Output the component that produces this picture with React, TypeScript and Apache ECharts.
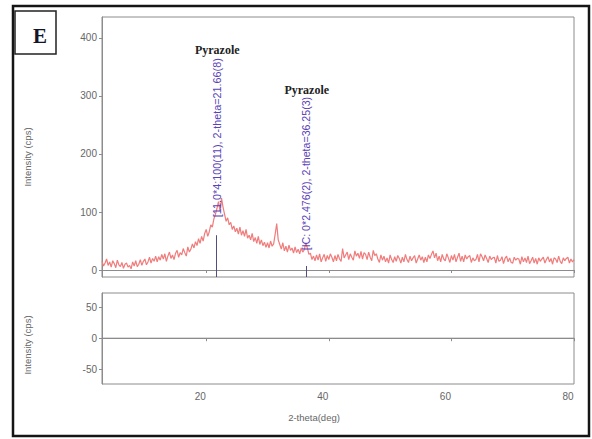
import React, { useEffect, useRef } from "react";
import * as echarts from "echarts";

// ---- data ----
const X_START = 3;
const X_STEP = 0.25;
const X_MIN = 3;
const X_MAX = 80;

// measured intensity (cps), one row per degree 2-theta (x.00, x.25, x.50, x.75)
const intensity: number[] = [
  15, 7, 12, 19, // 3
  8, 14, 5, 16, // 4
  11, 4, 17, 9, // 5
  6, 13, 3, 10, // 6
  12, 5, 8, 2, // 7
  14, 7, 16, 6, // 8
  10, 18, 8, 15, // 9
  19, 9, 14, 22, // 10
  12, 20, 15, 24, // 11
  14, 23, 17, 27, // 12
  19, 28, 15, 24, // 13
  31, 20, 26, 18, // 14
  29, 34, 22, 30, // 15
  26, 37, 30, 24, // 16
  40, 31, 36, 45, // 17
  38, 49, 42, 54, // 18
  46, 58, 50, 63, // 19
  70, 58, 66, 78, // 20
  74, 88, 96, 106, // 21
  118, 102, 124, 108, // 22
  96, 84, 90, 78, // 23
  82, 70, 76, 66, // 24
  72, 62, 74, 60, // 25
  68, 58, 70, 55, // 26
  60, 52, 63, 49, // 27
  56, 46, 58, 44, // 28
  52, 42, 48, 39, // 29
  47, 38, 50, 41, // 30
  45, 62, 80, 52, // 31
  44, 36, 47, 33, // 32
  41, 31, 43, 34, // 33
  38, 29, 40, 30, // 34
  36, 28, 38, 31, // 35
  35, 47, 38, 27, // 36
  29, 18, 24, 16, // 37
  26, 17, 28, 14, // 38
  21, 27, 15, 25, // 39
  18, 28, 22, 14, // 40
  25, 16, 27, 19, // 41
  15, 37, 21, 26, // 42
  31, 18, 28, 22, // 43
  17, 33, 24, 29, // 44
  20, 32, 19, 30, // 45
  27, 18, 31, 22, // 46
  16, 34, 25, 28, // 47
  19, 13, 26, 17, // 48
  24, 14, 21, 12, // 49
  26, 18, 13, 23, // 50
  15, 25, 20, 12, // 51
  22, 14, 27, 18, // 52
  13, 24, 16, 21, // 53
  25, 12, 19, 26, // 54
  17, 23, 13, 22, // 55
  14, 26, 20, 27, // 56
  33, 21, 29, 16, // 57
  24, 14, 27, 19, // 58
  16, 28, 21, 13, // 59
  25, 17, 27, 14, // 60
  22, 29, 15, 24, // 61
  14, 26, 19, 23, // 62
  25, 13, 21, 16, // 63
  18, 27, 14, 28, // 64
  23, 16, 26, 20, // 65
  13, 24, 18, 21, // 66
  22, 12, 25, 15, // 67
  17, 23, 11, 20, // 68
  24, 14, 21, 13, // 69
  12, 22, 17, 20, // 70
  19, 10, 23, 14, // 71
  21, 13, 24, 11, // 72
  16, 22, 12, 20, // 73
  10, 21, 15, 19, // 74
  22, 12, 18, 23, // 75
  14, 20, 10, 21, // 76
  19, 13, 24, 15, // 77
  11, 21, 16, 20, // 78
  22, 12, 19, 14, // 79
  18, // 80
];
const twoTheta = intensity.map((_, i) => X_START + i * X_STEP);

// difference panel
const diffTheta = [3, 80];
const diffValues = [0, 0];

// reference peak sticks and labels
const peakPositions = [21.66, 36.25];
const stickHeights = [60, 7];
const peakLabels = [
  "[11.0*4:100(11), 2-theta=21.66(8)",
  "[IC: 0*2.476(2), 2-theta=36.25(3)",
];
const peakLabelBase = [91, 34];
const peakLabelSize = [10.8, 10.6];
const phaseNames = ["Pyrazole", "Pyrazole"];
const phaseLabelX = [21.8, 36.4];
const phaseLabelY = [379, 310];

// axes
const topYMin = -12;
const topYMax = 436;
const botYMin = -74;
const botYMax = 73;

const AXIS = "#8c8c8c";
const TXT = "#666666";
const SANS = '"Liberation Sans", Arial, sans-serif';
const SERIF = '"Liberation Serif", "Times New Roman", serif';

export default function App() {
  const ref = useRef<HTMLDivElement>(null);
  useEffect(() => {
    document.body.style.margin = "0";
    const chart = echarts.init(ref.current!, null, { renderer: "svg" });
    const mainData = twoTheta.map((x, i) => [x, intensity[i]]);
    const diffData = diffTheta.map((x, i) => [x, diffValues[i]]);
    const stickLines = peakPositions.map((p, i) => [
      { coord: [p, topYMin] },
      { coord: [p, stickHeights[i]] },
    ]);
    const axisCommon = {
      type: "value" as const,
      min: X_MIN,
      max: X_MAX,
      minInterval: 20,
      maxInterval: 20,
      axisLine: { show: true, lineStyle: { color: AXIS } },
      axisTick: { show: true, inside: false, length: 3, lineStyle: { color: AXIS } },
      splitLine: { show: false },
    };
    chart.setOption({
      animation: false,
      backgroundColor: "#fff",
      grid: [
        { left: 102, top: 17, width: 472, height: 260, show: true, borderColor: AXIS, borderWidth: 1, backgroundColor: "#fff" },
        { left: 102, top: 293, width: 472, height: 91, show: true, borderColor: AXIS, borderWidth: 1, backgroundColor: "#fff" },
      ],
      xAxis: [
        { ...axisCommon, gridIndex: 0, axisLabel: { show: false } },
        {
          ...axisCommon,
          gridIndex: 1,
          axisLabel: {
            show: true,
            color: TXT,
            fontFamily: SANS,
            fontSize: 10,
            margin: 7,
            padding: [0, 12, 0, 0],
            showMinLabel: false,
            showMaxLabel: true,
          },
        },
      ],
      yAxis: [
        {
          type: "value",
          gridIndex: 0,
          min: topYMin,
          max: topYMax,
          minInterval: 100,
          maxInterval: 100,
          axisLine: { show: true, lineStyle: { color: AXIS } },
          axisTick: { show: true, length: 3, lineStyle: { color: AXIS } },
          splitLine: { show: false },
          axisLabel: { color: TXT, fontFamily: SANS, fontSize: 10, margin: 5, showMinLabel: false, showMaxLabel: false },
        },
        {
          type: "value",
          gridIndex: 1,
          min: botYMin,
          max: botYMax,
          minInterval: 50,
          maxInterval: 50,
          axisLine: { show: true, lineStyle: { color: AXIS } },
          axisTick: { show: true, length: 3, lineStyle: { color: AXIS } },
          splitLine: { show: false },
          axisLabel: { color: TXT, fontFamily: SANS, fontSize: 10, margin: 5, showMinLabel: false, showMaxLabel: false },
        },
      ],
      series: [
        {
          name: "Intensity",
          type: "line",
          xAxisIndex: 0,
          yAxisIndex: 0,
          data: mainData,
          showSymbol: false,
          symbol: "none",
          lineStyle: { color: "#f07c7c", width: 1.2 },
          z: 2,
          markLine: {
            silent: true,
            symbol: "none",
            label: { show: false },
            lineStyle: { color: "#505080", width: 1, type: "solid" },
            data: stickLines,
            z: 3,
          },
        },
        {
          name: "Difference",
          type: "line",
          xAxisIndex: 1,
          yAxisIndex: 1,
          data: diffData,
          showSymbol: false,
          symbol: "none",
          lineStyle: { color: AXIS, width: 1 },
        },
      ],
    });

    const px = (x: number, y: number) =>
      chart.convertToPixel({ xAxisIndex: 0, yAxisIndex: 0 }, [x, y]) as number[];

    const graphics: any[] = [
      {
        type: "rect",
        shape: { x: 13, y: 6, width: 576, height: 430 },
        style: { fill: "none", stroke: "#151515", lineWidth: 2.5 },
        silent: true,
        z: 10,
      },
      {
        type: "rect",
        shape: { x: 15, y: 11, width: 41, height: 43 },
        style: { fill: "#fff", stroke: "#222", lineWidth: 1.5 },
        z: 10,
      },
      {
        type: "text",
        x: 40,
        y: 36,
        style: { text: "E", font: `bold 21px ${SERIF}`, fill: "#141428", align: "center", verticalAlign: "middle" },
        z: 11,
      },
      {
        type: "text",
        x: 27,
        y: 157,
        rotation: Math.PI / 2,
        style: { text: "Intensity (cps)", font: `9.5px ${SANS}`, fill: TXT, align: "center", verticalAlign: "middle" },
      },
      {
        type: "text",
        x: 27,
        y: 345,
        rotation: Math.PI / 2,
        style: { text: "Intensity (cps)", font: `9.5px ${SANS}`, fill: TXT, align: "center", verticalAlign: "middle" },
      },
      {
        type: "text",
        x: 314,
        y: 417,
        style: { text: "2-theta(deg)", font: `9.5px ${SANS}`, fill: TXT, align: "center", verticalAlign: "middle" },
      },
    ];
    peakPositions.forEach((p, i) => {
      const [lx, ly] = px(p, peakLabelBase[i]);
      graphics.push({
        type: "text",
        x: lx + 0.5,
        y: ly,
        rotation: Math.PI / 2,
        style: { text: peakLabels[i], font: `${peakLabelSize[i]}px ${SANS}`, fill: "#5a42b8", align: "left", verticalAlign: "middle" },
        z: 5,
      });
      const [nx, ny] = px(phaseLabelX[i], phaseLabelY[i]);
      graphics.push({
        type: "text",
        x: nx,
        y: ny,
        style: { text: phaseNames[i], font: `bold 12px ${SERIF}`, fill: "#222", align: "center", verticalAlign: "middle" },
        z: 5,
      });
    });
    chart.setOption({ graphic: graphics });
    return () => chart.dispose();
  }, []);
  return (
    <div
      ref={ref}
      style={{ position: "absolute", left: 0, top: 0, width: 592, height: 439, background: "#fff" }}
    />
  );
}
